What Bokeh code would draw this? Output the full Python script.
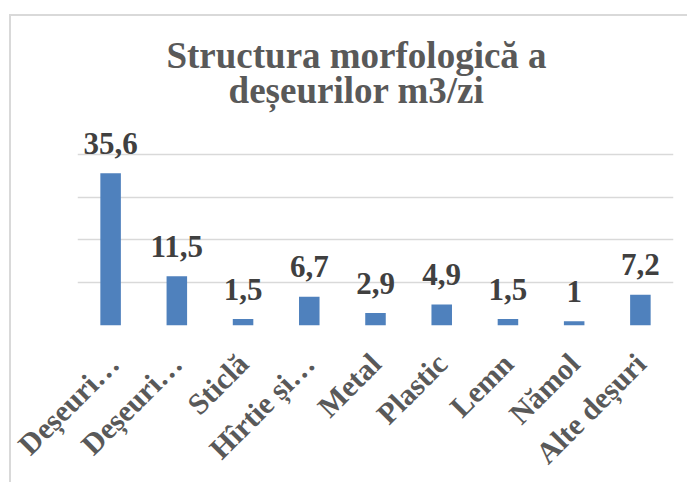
import math
from bokeh.plotting import figure
from bokeh.models import Range1d, FixedTicker, Label, ColumnDataSource
from bokeh.core.properties import value
from bokeh.embed import file_html
from bokeh.resources import INLINE

categories = ["Deșeuri…", "Deșeuri…", "Sticlă", "Hîrtie și…", "Metal", "Plastic", "Lemn", "Nămol", "Alte deșuri"]
values = [35.6, 11.5, 1.5, 6.7, 2.9, 4.9, 1.5, 1.0, 7.2]
grid_ticks = [0, 10, 20, 30, 40]
title_lines = ["Structura morfologică a", "deșeurilor m3/zi"]

positions = list(range(1, len(categories) + 1))
label_texts = [f"{v:g}".replace(".", ",") for v in values]

src = ColumnDataSource(data=dict(x=positions, top=values, lab=label_texts))

SERIF = "Liberation Serif"

p = figure(width=678, height=468, output_backend="svg", toolbar_location=None,
           x_range=Range1d(0.5, 9.5), y_range=Range1d(0, 72.2),
           y_axis_location=None, min_border_left=66, min_border_right=16,
           min_border_top=0, min_border_bottom=159)
p.margin = (14, 0, 0, 9)
p.styles = {"border-left": "2px solid #d9d9d9", "border-top": "2px solid #d9d9d9"}
p.outline_line_color = None
p.background_fill_color = "white"
p.border_fill_color = "white"

p.vbar(x="x", top="top", width=0.31, source=src, fill_color="#4F81BD", line_color=None)

p.text(x="x", y="top", text="lab", source=src, text_align="center", text_baseline="alphabetic",
       y_offset=-30, text_font=value(SERIF), text_font_style="bold", text_font_size="31px",
       text_color="#404040")

p.xgrid.visible = False
p.ygrid.ticker = FixedTicker(ticks=grid_ticks)
p.ygrid.grid_line_color = "#d9d9d9"
p.ygrid.grid_line_width = 1.3

ax = p.xaxis[0]
ax.ticker = FixedTicker(ticks=positions)
ax.major_label_overrides = {pos: lab for pos, lab in zip(positions, categories)}
ax.major_label_orientation = math.pi / 4
ax.major_label_text_font = SERIF
ax.major_label_text_font_style = "bold"
ax.major_label_text_font_size = "30px"
ax.major_label_text_color = "#595959"
ax.major_tick_line_color = None
ax.minor_tick_line_color = None
ax.axis_line_color = None
ax.major_label_standoff = 27

for line, yy in zip(title_lines, [270, 235]):
    p.add_layout(Label(x=279, y=yy, x_units="screen", y_units="screen", text=line,
                       text_align="center", text_baseline="alphabetic",
                       text_font=SERIF, text_font_style="bold", text_font_size="37px",
                       text_color="#595959"))

open("out.html", "w").write(file_html(p, INLINE))
